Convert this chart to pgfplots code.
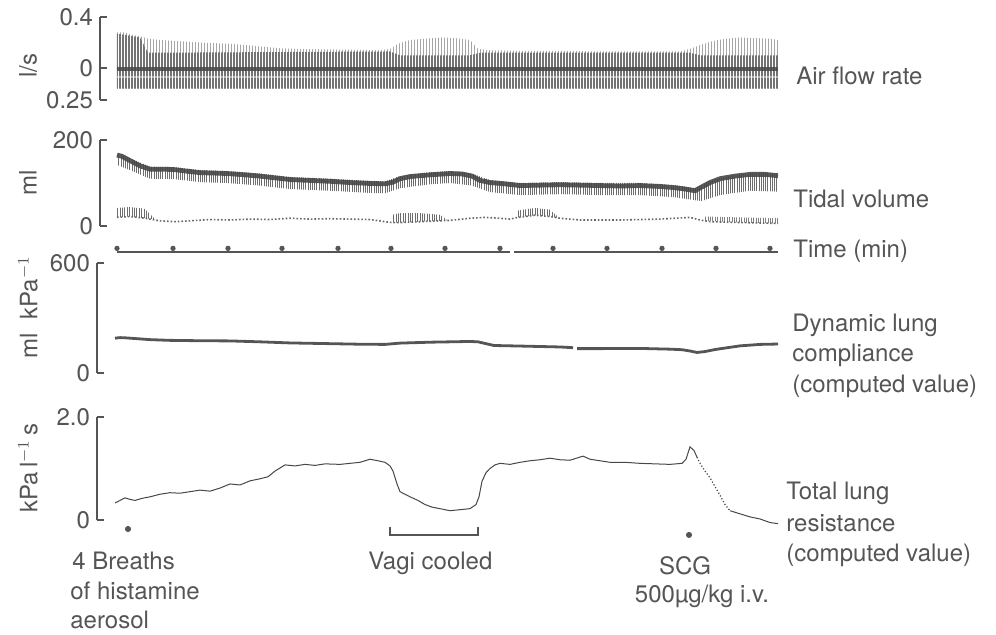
\documentclass[border=0pt]{standalone}
\usepackage{fontspec}
\setmainfont{TeX Gyre Heros}
\usepackage{pgfplots}
\usepackage{pgfplotstable}
\pgfplotsset{compat=1.18}
\usetikzlibrary{patterns.meta}
\definecolor{ink}{HTML}{555555}
\definecolor{trace}{HTML}{474747}

% tidal volume upper trace (ml): band centre
\pgfplotstableread{
x band
117 165
122 162
130 152
140 140
150 132
165 132
175 131
185 128
200 124
215 123
227 122
245 119
260 116
275 112
290 108
310 106
330 104
350 101
370 99
385 98
393 102
400 110
410 115
430 119
450 122
462 121
472 116
480 106
490 101
505 98
520 94
540 95
560 96
580 95
600 94
620 93
640 94
660 92
675 89
685 86
695 82
702 91
710 101
720 110
735 116
750 120
765 120
778 117
}\tidal

% tidal volume lower (end-expiratory) trace
\pgfplotstableread{
x base
117 20
130 22
145 18
160 12
175 10
190 12
210 15
230 14
250 16
270 15
290 18
310 16
330 17
350 16
370 15
385 10
392 8
400 8
420 10
440 12
450 13
470 18
485 20
500 18
510 16
518 20
535 25
550 22
560 18
580 14
620 14
660 16
690 20
700 14
710 10
740 8
778 6
}\tidallow

% dynamic lung compliance (ml/kPa)
\pgfplotstableread{
x c
115 190
120 193
125 192
135 188
150 182
170 178
200 176
230 175
260 170
290 164
330 160
360 157
385 156
400 163
430 168
470 172
478 170
486 160
494 150
520 147
560 142
573 138
}\complA
\pgfplotstableread{
x c
577 133
600 133
640 134
670 130
682 127
690 120
697 112
705 117
715 128
740 148
760 156
778 158
}\complB

% total lung resistance (kPa l^-1 s)
\pgfplotstableread{
x r
115 0.33
120 0.38
125 0.43
130 0.40
135 0.38
142 0.42
150 0.45
160 0.50
170 0.53
180 0.52
190 0.55
200 0.58
210 0.56
220 0.62
230 0.70
240 0.68
250 0.76
260 0.80
268 0.84
275 0.95
285 1.07
295 1.05
305 1.08
315 1.06
325 1.09
340 1.08
350 1.10
360 1.12
370 1.18
378 1.15
385 1.12
390 1.05
393 0.95
397 0.70
400 0.55
405 0.50
410 0.45
418 0.38
425 0.30
432 0.25
440 0.22
450 0.18
460 0.20
470 0.22
476 0.30
479 0.45
482 0.75
486 0.92
490 1.00
495 1.07
500 1.10
510 1.08
520 1.12
530 1.15
540 1.17
550 1.20
560 1.17
570 1.16
583 1.24
590 1.18
600 1.15
610 1.12
625 1.12
640 1.10
655 1.09
670 1.08
682 1.10
686 1.18
690 1.42
694 1.35
697 1.22
}\resA
\pgfplotstableread{
x r
697 1.22
700 1.10
705 0.95
710 0.82
715 0.65
720 0.48
725 0.30
730 0.18
}\resB
\pgfplotstableread{
x r
730 0.18
740 0.12
750 0.06
760 0.02
770 -0.05
778 -0.07
}\resC

\pgfplotsset{
  rec/.style={
    scale only axis, axis x line=none, axis y line=left,
    y axis line style={-,ink,line width=0.8pt},
    ytick style={ink,line width=0.8pt},
    tick align=inside, major tick length=3.5pt,
    xmax=780, clip=false, enlargelimits=false,
    yticklabel style={font=\fontsize{12}{14}\selectfont, text=ink},
    /pgf/number format/assume math mode=true,
    anchor=south west,
  },
}
\tikzset{fnt/.style={font=\fontsize{12}{14}\selectfont, text=ink, inner sep=0pt}}

\begin{document}
\begin{tikzpicture}
\useasboundingbox (0,0) rectangle (498pt,-317.5pt);

% ---- Air flow rate
\begin{axis}[rec, at={(50pt,-50pt)}, xmin=100, width=340pt, height=41.5pt,
  ymin=-0.25, ymax=0.4, ytick={-0.25,0,0.4}, yticklabels={0.25,0,0.4}]
  \addplot[draw=none, pattern={Lines[angle=90,distance=1.5pt,line width=0.35pt]}, pattern color=gray!70]
    coordinates {(117,0.28) (125,0.28) (132,0.26) (140,0.25) (148,0.23) (160,0.22)
    (180,0.21) (200,0.20) (230,0.19) (260,0.17) (280,0.155) (300,0.15) (340,0.145)
    (380,0.14) (390,0.15) (398,0.19) (410,0.22) (425,0.23) (440,0.24) (455,0.235)
    (470,0.22) (478,0.15) (490,0.14) (520,0.135) (560,0.135) (600,0.13) (640,0.13)
    (680,0.13) (690,0.15) (700,0.18) (712,0.21) (725,0.23) (740,0.24) (755,0.235)
    (770,0.23) (778,0.22) (778,-0.16) (117,-0.16)} -- cycle;
  \addplot[draw=none, pattern={Lines[angle=90,distance=1.5pt,line width=0.7pt]}, pattern color=gray!90!black]
    coordinates {(117,0.27) (140,0.24) (148,0.12) (390,0.13) (400,0.10) (470,0.10) (480,0.12)
    (690,0.12) (700,0.10) (778,0.10) (778,-0.16) (117,-0.16)} -- cycle;
  \addplot[trace, line width=2pt, opacity=0.85] coordinates {(117,-0.01) (778,-0.01)};
  \addplot[white, line width=0.6pt, opacity=0.45] coordinates {(117,-0.07) (778,-0.07)};
\end{axis}

% ---- Tidal volume
\begin{axis}[rec, at={(50pt,-113pt)}, xmin=100, width=340pt, height=43pt,
  ymin=0, ymax=200, ytick={0,200}]
  \addplot[draw=none, pattern={Lines[angle=90,distance=1.1pt,line width=0.4pt]}, pattern color=gray!85!black]
    coordinates {(117,170) (130,158) (150,138) (175,137) (200,130) (227,128) (260,122)
    (290,114) (330,110) (370,105) (385,104) (400,116) (430,125) (450,128) (472,122)
    (490,107) (520,100) (560,102) (600,100) (640,100) (675,95) (695,88) (710,105)
    (735,120) (765,124) (778,121)
    (778,80) (750,82) (720,72) (702,58) (695,60) (675,67) (640,72) (600,72) (560,74)
    (520,72) (490,79) (472,94) (450,100) (430,97) (400,88) (385,76) (370,77) (330,82)
    (290,86) (260,94) (227,100) (200,102) (175,109) (150,110) (130,130) (117,142)} -- cycle;
  \addplot[trace, line width=2.4pt, opacity=0.9] table[x=x,y=band]{\tidal};
  % spikes of the lower trace
  \addplot[draw=none, pattern={Lines[angle=90,distance=1.2pt,line width=0.4pt]}, pattern color=gray!85!black]
    coordinates {(117,42) (130,44) (145,40) (155,16) (145,18) (130,22) (117,20)} -- cycle;
  \addplot[draw=none, pattern={Lines[angle=90,distance=1.2pt,line width=0.4pt]}, pattern color=gray!85!black]
    coordinates {(392,26) (400,30) (420,30) (440,26) (448,13) (440,12) (420,10) (400,8) (392,8)} -- cycle;
  \addplot[draw=none, pattern={Lines[angle=90,distance=1.2pt,line width=0.4pt]}, pattern color=gray!85!black]
    coordinates {(518,36) (535,42) (550,38) (560,18) (550,22) (535,25) (518,20)} -- cycle;
  \addplot[draw=none, pattern={Lines[angle=90,distance=1.2pt,line width=0.35pt]}, pattern color=gray]
    coordinates {(705,22) (740,20) (778,18) (778,6) (740,8) (705,12)} -- cycle;
  \addplot[gray!80!black, line width=0.8pt, densely dotted] table[x=x,y=base]{\tidallow};
  % time axis with minute marks
  \addplot[ink, line width=0.8pt] coordinates {(117,-60) (510,-60)};
  \addplot[ink, line width=0.8pt] coordinates {(514,-60) (778,-60)};
  \addplot[only marks, mark=*, mark size=1.1pt, ink] coordinates {
    (117,-52) (173,-52) (228,-52) (282,-52) (338,-52) (391,-52) (445,-52)
    (500,-52) (553,-52) (607,-52) (662,-52) (716,-52) (770,-52)};
\end{axis}

% ---- Dynamic lung compliance
\begin{axis}[rec, at={(48.5pt,-186.5pt)}, xmin=97, width=341.5pt, height=55pt,
  ymin=0, ymax=600, ytick={0,600}]
  \addplot[ink, line width=1.4pt] table[x=x,y=c]{\complA};
  \addplot[ink, line width=1.4pt] table[x=x,y=c]{\complB};
\end{axis}

% ---- Total lung resistance
\begin{axis}[rec, at={(48.5pt,-260pt)}, xmin=97, width=341.5pt, height=51.5pt,
  ymin=0, ymax=2, ytick={0,2}, yticklabels={0,2.0}]
  \addplot[trace, line width=0.5pt] table[x=x,y=r]{\resA};
  \addplot[trace, line width=0.6pt, densely dotted] table[x=x,y=r]{\resB};
  \addplot[trace, line width=0.5pt] table[x=x,y=r]{\resC};
  \addplot[only marks, mark=*, mark size=1.3pt, ink] coordinates {(128,-0.175) (689,-0.29)};
  \addplot[ink, line width=0.8pt] coordinates {(390,-0.14) (390,-0.29) (478,-0.29) (478,-0.14)};
\end{axis}

\begin{scope}[x=0.5pt,y=-0.5pt]
  % y axis labels
  \node[fnt, rotate=90] at (28,66) {l/s};
  \node[fnt, rotate=90] at (28,183) {ml};
  \node[fnt, rotate=90] at (28,307) {ml\ \ kPa$^{-1}$};
  \node[fnt, rotate=90] at (28,468) {kPa\,l$^{-1}$\,s};
  % right-hand labels
  \node[fnt, anchor=base west] at (796,85) {Air flow rate};
  \node[fnt, anchor=base west] at (793,208) {Tidal volume};
  \node[fnt, anchor=base west] at (793,258) {Time\ (min)};
  \node[fnt, anchor=base west] at (792,332) {Dynamic lung};
  \node[fnt, anchor=base west] at (792,362) {compliance};
  \node[fnt, anchor=base west] at (792,393) {(computed value)};
  \node[fnt, anchor=base west] at (786,500) {Total lung};
  \node[fnt, anchor=base west] at (786,532) {resistance};
  \node[fnt, anchor=base west] at (786,562) {(computed value)};
  % bottom annotations
  \node[fnt, anchor=base west] at (72,570) {4 Breaths};
  \node[fnt, anchor=base west] at (70,600) {of histamine};
  \node[fnt, anchor=base west] at (70,629) {aerosol};
  \node[fnt, anchor=base west] at (368,570) {Vagi cooled};
  \node[fnt, anchor=base] at (685,575) {SCG};
  \node[fnt, anchor=base] at (702,603) {500µg/kg i.v.};
\end{scope}
\end{tikzpicture}
\end{document}
